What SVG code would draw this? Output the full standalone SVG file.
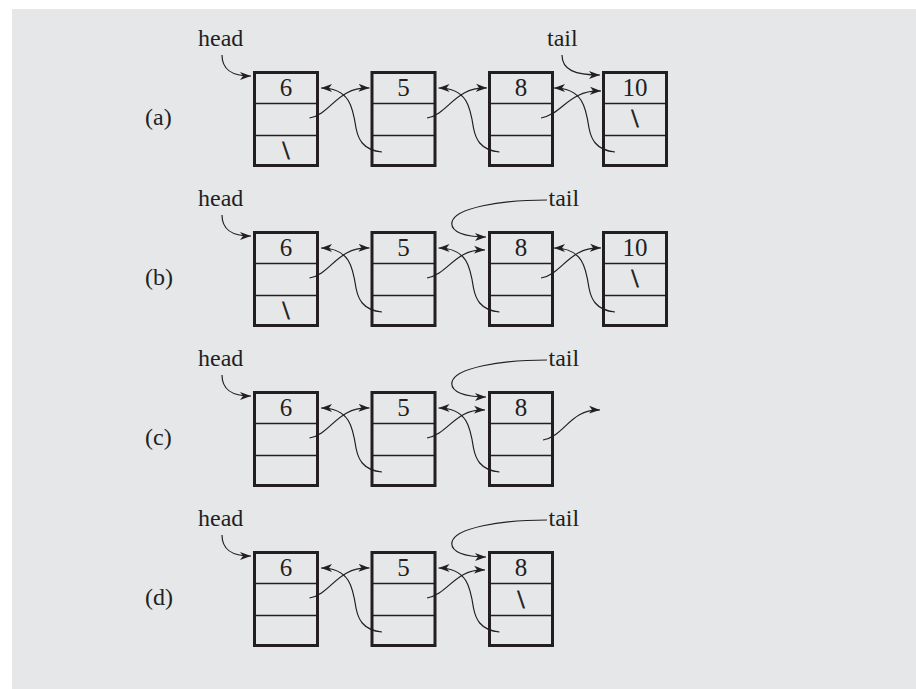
<svg xmlns="http://www.w3.org/2000/svg" width="916" height="689" viewBox="0 0 916 689">
<style>
.box{fill:none;stroke:#231f20;stroke-width:3}
.div{stroke:#231f20;stroke-width:1.4}
.t{font-family:"Liberation Serif","Times New Roman",Times,serif;fill:#231f20}
.num{font-size:25px;text-anchor:middle}
.bs{font-size:25px;text-anchor:middle;stroke:#231f20;stroke-width:0.8}
.lbl{font-size:24px}
.cap{font-size:24px}
.c{fill:none;stroke:#231f20;stroke-width:1.2;marker-end:url(#ah)}
</style>
<defs>
<marker id="ah" markerUnits="userSpaceOnUse" markerWidth="12" markerHeight="9" refX="11" refY="4" orient="auto" viewBox="0 0 12 8">
<path d="M0,0 L11,4 L0,8 L3,4 Z" fill="#231f20"/>
</marker>
</defs>
<rect x="12" y="9" width="904" height="680" fill="#e6e7e8"/>

<g id="labels" class="t">
<text class="cap" x="145" y="125">(a)</text>
<text class="cap" x="145" y="285">(b)</text>
<text class="cap" x="145" y="445">(c)</text>
<text class="cap" x="145" y="605">(d)</text>
<text class="lbl" x="198" y="46">head</text>
<text class="lbl" x="547" y="46">tail</text>
<text class="lbl" x="198" y="206">head</text>
<text class="lbl" x="548.5" y="206">tail</text>
<text class="lbl" x="198" y="366">head</text>
<text class="lbl" x="548.5" y="366">tail</text>
<text class="lbl" x="198" y="526">head</text>
<text class="lbl" x="548.5" y="526">tail</text>
</g>

<g id="a6" transform="translate(253,71)"><rect class="box" x="1.5" y="1.5" width="63" height="93"/><line class="div" x1="1.5" y1="32.5" x2="64.5" y2="32.5"/><line class="div" x1="1.5" y1="64.5" x2="64.5" y2="64.5"/><text class="t num" x="33" y="25">6</text><text class="t bs" x="33" y="88">\</text></g>
<g id="a5" transform="translate(370.5,71)"><rect class="box" x="1.5" y="1.5" width="63" height="93"/><line class="div" x1="1.5" y1="32.5" x2="64.5" y2="32.5"/><line class="div" x1="1.5" y1="64.5" x2="64.5" y2="64.5"/><text class="t num" x="33" y="25">5</text></g>
<g id="a8" transform="translate(488,71)"><rect class="box" x="1.5" y="1.5" width="63" height="93"/><line class="div" x1="1.5" y1="32.5" x2="64.5" y2="32.5"/><line class="div" x1="1.5" y1="64.5" x2="64.5" y2="64.5"/><text class="t num" x="33" y="25">8</text></g>
<g id="a10" transform="translate(602,71)"><rect class="box" x="1.5" y="1.5" width="63" height="93"/><line class="div" x1="1.5" y1="32.5" x2="64.5" y2="32.5"/><line class="div" x1="1.5" y1="64.5" x2="64.5" y2="64.5"/><text class="t num" x="33" y="25">10</text><text class="t bs" x="33" y="56">\</text></g>

<g id="b6" transform="translate(253,231)"><rect class="box" x="1.5" y="1.5" width="63" height="93"/><line class="div" x1="1.5" y1="32.5" x2="64.5" y2="32.5"/><line class="div" x1="1.5" y1="64.5" x2="64.5" y2="64.5"/><text class="t num" x="33" y="25">6</text><text class="t bs" x="33" y="88">\</text></g>
<g id="b5" transform="translate(370.5,231)"><rect class="box" x="1.5" y="1.5" width="63" height="93"/><line class="div" x1="1.5" y1="32.5" x2="64.5" y2="32.5"/><line class="div" x1="1.5" y1="64.5" x2="64.5" y2="64.5"/><text class="t num" x="33" y="25">5</text></g>
<g id="b8" transform="translate(488,231)"><rect class="box" x="1.5" y="1.5" width="63" height="93"/><line class="div" x1="1.5" y1="32.5" x2="64.5" y2="32.5"/><line class="div" x1="1.5" y1="64.5" x2="64.5" y2="64.5"/><text class="t num" x="33" y="25">8</text></g>
<g id="b10" transform="translate(602,231)"><rect class="box" x="1.5" y="1.5" width="63" height="93"/><line class="div" x1="1.5" y1="32.5" x2="64.5" y2="32.5"/><line class="div" x1="1.5" y1="64.5" x2="64.5" y2="64.5"/><text class="t num" x="33" y="25">10</text><text class="t bs" x="33" y="56">\</text></g>

<g id="c6" transform="translate(253,391)"><rect class="box" x="1.5" y="1.5" width="63" height="93"/><line class="div" x1="1.5" y1="32.5" x2="64.5" y2="32.5"/><line class="div" x1="1.5" y1="64.5" x2="64.5" y2="64.5"/><text class="t num" x="33" y="25">6</text></g>
<g id="c5" transform="translate(370.5,391)"><rect class="box" x="1.5" y="1.5" width="63" height="93"/><line class="div" x1="1.5" y1="32.5" x2="64.5" y2="32.5"/><line class="div" x1="1.5" y1="64.5" x2="64.5" y2="64.5"/><text class="t num" x="33" y="25">5</text></g>
<g id="c8" transform="translate(488,391)"><rect class="box" x="1.5" y="1.5" width="63" height="93"/><line class="div" x1="1.5" y1="32.5" x2="64.5" y2="32.5"/><line class="div" x1="1.5" y1="64.5" x2="64.5" y2="64.5"/><text class="t num" x="33" y="25">8</text></g>

<g id="d6" transform="translate(253,551)"><rect class="box" x="1.5" y="1.5" width="63" height="93"/><line class="div" x1="1.5" y1="32.5" x2="64.5" y2="32.5"/><line class="div" x1="1.5" y1="64.5" x2="64.5" y2="64.5"/><text class="t num" x="33" y="25">6</text></g>
<g id="d5" transform="translate(370.5,551)"><rect class="box" x="1.5" y="1.5" width="63" height="93"/><line class="div" x1="1.5" y1="32.5" x2="64.5" y2="32.5"/><line class="div" x1="1.5" y1="64.5" x2="64.5" y2="64.5"/><text class="t num" x="33" y="25">5</text></g>
<g id="d8" transform="translate(488,551)"><rect class="box" x="1.5" y="1.5" width="63" height="93"/><line class="div" x1="1.5" y1="32.5" x2="64.5" y2="32.5"/><line class="div" x1="1.5" y1="64.5" x2="64.5" y2="64.5"/><text class="t num" x="33" y="25">8</text><text class="t bs" x="33" y="57">\</text></g>

<g id="connectors">
<path class="c" d="M222,55 C222,70 232,76 251,76"/>
<path class="c" d="M562,55 C562,70 575,75 600,75"/>
<path class="c" d="M309.5,118 c22,-4 27,-31 60,-30"/>
<path class="c" d="M382,152 c-20,-2 -24,-14 -26,-24 c-3,-20 -6,-40 -35,-40"/>
<path class="c" d="M427,118 c22,-4 27,-31 60,-30"/>
<path class="c" d="M499.5,152 c-20,-2 -24,-14 -26,-24 c-3,-20 -6,-40 -35,-40"/>
<path class="c" d="M541,118 c22,-4 27,-28 60,-27"/>
<path class="c" d="M615,152 c-20,-2 -24,-14 -26,-24 c-3,-20 -6,-40 -35,-40"/>
<path class="c" d="M222,215 C222,230 232,236 251,236"/>
<path class="c" d="M547,200 C500,200 455,208 452,222 C450,232 465,237 486,237"/>
<path class="c" d="M309.5,278 c22,-4 27,-31 60,-30"/>
<path class="c" d="M382,312 c-20,-2 -24,-14 -26,-24 c-3,-20 -6,-40 -35,-40"/>
<path class="c" d="M427,278 c22,-4 27,-29 58,-28"/>
<path class="c" d="M499.5,312 c-20,-2 -24,-14 -26,-24 c-3,-20 -6,-40 -35,-40"/>
<path class="c" d="M541,278 c22,-4 27,-31 60,-30"/>
<path class="c" d="M615,312 c-20,-2 -24,-14 -26,-24 c-3,-20 -6,-40 -35,-40"/>
<path class="c" d="M222,375 C222,390 232,396 251,396"/>
<path class="c" d="M547,360 C500,360 455,368 452,382 C450,392 465,397 486,397"/>
<path class="c" d="M309.5,438 c22,-4 27,-31 60,-30"/>
<path class="c" d="M382,472 c-20,-2 -24,-14 -26,-24 c-3,-20 -6,-40 -35,-40"/>
<path class="c" d="M427,438 c22,-4 27,-29 58,-28"/>
<path class="c" d="M499.5,472 c-20,-2 -24,-14 -26,-24 c-3,-20 -6,-40 -35,-40"/>
<path class="c" d="M543,440 c22,-4 27,-31 57,-30"/>
<path class="c" d="M222,535 C222,550 232,556 251,556"/>
<path class="c" d="M547,520 C500,520 455,528 452,542 C450,552 465,557 486,557"/>
<path class="c" d="M309.5,598 c22,-4 27,-31 60,-30"/>
<path class="c" d="M382,632 c-20,-2 -24,-14 -26,-24 c-3,-20 -6,-40 -35,-40"/>
<path class="c" d="M427,598 c22,-4 27,-29 58,-28"/>
<path class="c" d="M499.5,632 c-20,-2 -24,-14 -26,-24 c-3,-20 -6,-40 -35,-40"/>
</g>
</svg>
